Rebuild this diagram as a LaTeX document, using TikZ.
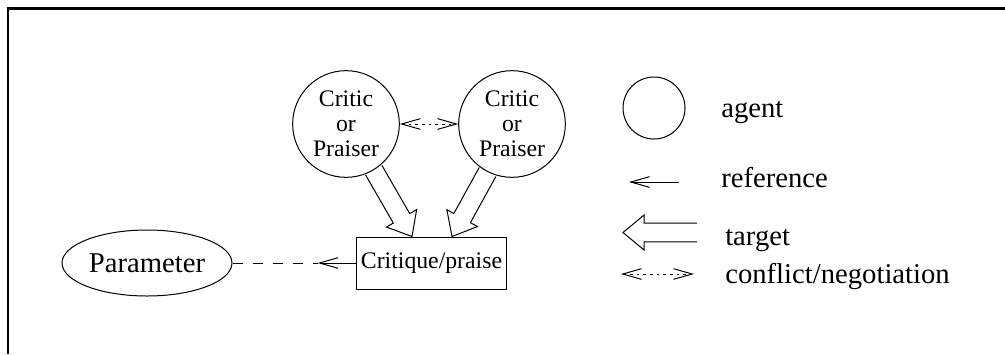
\documentclass[tikz,border=0pt]{standalone}
\usepackage{fontspec}
\setmainfont{Liberation Serif}
\usetikzlibrary{calc,arrows.meta,shapes.geometric}

% dimensions of the double-lined (hollow) target arrows
\newcommand\hollowshaft{7.1pt}
\newcommand\hollowhead{13.1pt}
\newcommand\hollowlen{15.75pt}
% hollow arrow from #1 to the tip #2; #3 names the point where the head starts
\newcommand\hollowarrow[3]{%
  \coordinate (#3) at ($(#2)!\hollowlen!(#1)$);
  \draw[stroke] ($(#1)!\hollowshaft!90:(#2)$) -- ($(#3)!\hollowshaft!90:(#2)$)
    -- ($(#3)!\hollowhead!90:(#2)$) -- (#2) -- ($(#3)!\hollowhead!-90:(#2)$)
    -- ($(#3)!\hollowshaft!-90:(#2)$) -- ($(#1)!\hollowshaft!-90:(#2)$);
}

\tikzset{
  stroke/.style={line width=0.75pt, line join=miter},
  barb/.tip={Straight Barb[length=14pt,width=8pt]},
  agent/.style={circle, draw, stroke, minimum size=80pt, inner sep=0pt,
    align=center, font=\fontsize{17.8}{18.75}\selectfont},
  legendagent/.style={circle, draw, stroke, minimum size=46.5pt, inner sep=0pt},
  itembox/.style={draw, stroke, minimum width=113pt, minimum height=39pt,
    inner sep=0pt, font=\fontsize{17.8}{21}\selectfont},
  param/.style={ellipse, draw, stroke, minimum width=127.5pt, minimum height=49.5pt,
    inner sep=0pt, font=\fontsize{21.5}{25}\selectfont},
  legendtext/.style={anchor=base west, inner sep=0pt, font=\fontsize{21.5}{25}\selectfont},
  refline/.style={stroke, -barb},
  conflict/.style={stroke, dash pattern=on 2pt off 3pt, barb-barb},
}

\begin{document}
\begin{tikzpicture}[x=0.75pt, y=-0.75pt]
  \useasboundingbox (0,0) rectangle (1005,354);

  % frame lines along the top and left
  \draw[line width=2.25pt] (6.7,8.8) -- (1005,8.8);
  \draw[line width=1.5pt] (7.7,8.8) -- (7.7,354);

  % agents
  \node[agent] (c1) at (346,124) {Critic\\or\\Praiser};
  \node[agent] (c2) at (512,124) {Critic\\or\\Praiser};
  \draw[conflict] (c1) -- (c2);

  % critique box and parameter
  \node[itembox] (box) at (431.5,263) {Critique/praise};
  \node[param] (par) at (147,263) {Parameter};

  % targets of the two agents
  \coordinate (t1) at ($(box.north)+(-19.5,0)$);
  \coordinate (t2) at ($(box.north)+(20.5,0)$);
  \hollowarrow{c1.-59}{t1}{h1}
  \hollowarrow{c2.-117.5}{t2}{h2}

  % reference from the box to the parameter
  \coordinate (m) at ($(box.west)+(-38,0)$);
  \draw[refline] (box.west) -- (m);
  \draw[stroke, dash pattern=on 7.5pt off 7.5pt] (par.east) -- (m);

  % legend
  \node[legendagent] (la) at (654,108) {};
  \node[legendtext] (lagent) at (721,117) {agent};

  \coordinate (lr1) at (679,182);
  \coordinate (lr2) at (629,182);
  \draw[refline] (lr1) -- (lr2);
  \node[legendtext] (lref) at (721,187) {reference};

  \coordinate (lt1) at (697,232.5);
  \coordinate (lt2) at (623,232.5);
  \hollowarrow{lt1}{lt2}{lth}
  \node[legendtext] (ltarget) at (725,245) {target};

  \coordinate (lc1) at (621,274);
  \coordinate (lc2) at (694,274);
  \draw[conflict] (lc1) -- (lc2);
  \node[legendtext] (lconf) at (725,283) {conflict/negotiation};
\end{tikzpicture}
\end{document}
